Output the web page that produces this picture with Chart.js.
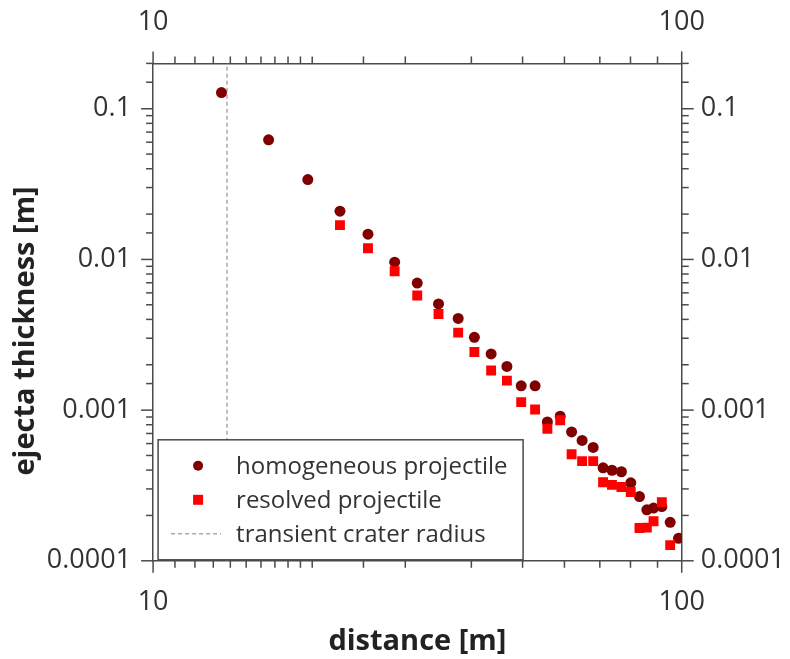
<!DOCTYPE html>
<html>
<head>
<meta charset="utf-8">
<script src="https://cdn.jsdelivr.net/npm/chart.js@4/dist/chart.umd.min.js"></script>
<style>
  html, body { margin: 0; padding: 0; background: #fff; }
  #wrap { width: 790px; height: 659px; }
</style>
</head>
<body>
<div id="wrap"><canvas id="ejectaChart"></canvas></div>
<script>
// distance from impact point [m]
const distance = [13.47, 16.54, 19.62, 22.57, 25.5, 28.64, 31.6, 34.67, 37.77, 40.53,
  43.6, 46.7, 49.7, 52.8, 55.7, 58.9, 61.9, 64.8, 68.0, 71.0,
  73.8, 76.9, 80.1, 83.2, 85.9, 88.45, 91.7, 95.1, 98.6];

// ejecta thickness [m]
const homogeneous = [0.128, 0.0622, 0.0339, 0.0209, 0.0147, 0.00959, 0.00697, 0.00507, 0.00406, 0.00304,
  0.00236, 0.00195, 0.00145, 0.00145, 0.000834, 0.000912, 0.000716, 0.000629, 0.000565, 0.000414,
  0.000399, 0.00039, 0.000329, 0.000267, 0.000218, 0.000224, 0.000229, 0.00018, 0.000141];
const resolved = [null, null, null, 0.0169, 0.01186, 0.00834, 0.00576, 0.00434, 0.00327, 0.00243,
  0.00183, 0.00157, 0.00113, 0.00101, 0.000752, 0.000857, 0.000509, 0.000459, 0.000459, 0.000332,
  0.000319, 0.000309, 0.000286, 0.000165, 0.000166, 0.000183, 0.000245, 0.000127, null];

const craterRadius = 13.8;
const xRange = [10, 100];
const yRange = [0.0001, 0.2];

const axisColor = "#4a4a4a";
const textColor = "#333";

Chart.defaults.font.family = "'Open Sans', 'Noto Sans', sans-serif";
Chart.defaults.color = textColor;

function points(ys) {
  const out = [];
  ys.forEach((y, i) => { if (y !== null) out.push({ x: distance[i], y: y }); });
  return out;
}

function isDecade(v) {
  const l = Math.log10(v);
  return Math.abs(l - Math.round(l)) < 1e-6;
}

function decadeLabel(value) {
  return isDecade(value) ? String(value) : "";
}

// tick marks outside the frame, long on decades
const tickMarks = {
  id: "tickMarks",
  afterDraw(chart) {
    const ctx = chart.ctx;
    const a = chart.chartArea;
    ctx.save();
    ctx.strokeStyle = axisColor;
    ctx.lineWidth = 1.5;
    Object.values(chart.scales).forEach((s) => {
      s.ticks.forEach((t) => {
        const len = isDecade(t.value) ? 12 : 7;
        const p = s.getPixelForValue(t.value);
        ctx.beginPath();
        if (s.position === "bottom") { ctx.moveTo(p, a.bottom); ctx.lineTo(p, a.bottom + len); }
        if (s.position === "top") { ctx.moveTo(p, a.top); ctx.lineTo(p, a.top - len); }
        if (s.position === "left") { ctx.moveTo(a.left, p); ctx.lineTo(a.left - len, p); }
        if (s.position === "right") { ctx.moveTo(a.right, p); ctx.lineTo(a.right + len, p); }
        ctx.stroke();
      });
    });
    ctx.restore();
  }
};

// boxed legend in the lower left corner of the plot
const boxLegend = {
  id: "boxLegend",
  afterDraw(chart) {
    const ctx = chart.ctx;
    const a = chart.chartArea;
    const bx = a.left + 5, by = a.bottom - 121, bw = 365, bh = 120;
    ctx.save();
    ctx.fillStyle = "#fff";
    ctx.fillRect(bx, by, bw, bh);
    ctx.strokeStyle = axisColor;
    ctx.lineWidth = 1.5;
    ctx.strokeRect(bx, by, bw, bh);
    ctx.font = "24px 'Open Sans', 'Noto Sans', sans-serif";
    ctx.textBaseline = "middle";
    chart.data.datasets.forEach((ds, i) => {
      const cy = by + 26 + i * 34;
      const mx = bx + 40;
      if (ds.showLine) {
        ctx.strokeStyle = ds.borderColor;
        ctx.lineWidth = ds.borderWidth;
        ctx.setLineDash(ds.borderDash);
        ctx.beginPath();
        ctx.moveTo(mx - 27, cy);
        ctx.lineTo(mx + 23, cy);
        ctx.stroke();
        ctx.setLineDash([]);
      } else {
        ctx.fillStyle = ds.backgroundColor;
        ctx.beginPath();
        if (ds.pointStyle === "rect") {
          const h = 5;
          ctx.rect(mx - h, cy - h, 2 * h, 2 * h);
        } else {
          ctx.arc(mx, cy, 5, 0, Math.PI * 2);
        }
        ctx.fill();
      }
      ctx.fillStyle = textColor;
      ctx.fillText(ds.label, bx + 78, cy + 1);
    });
    ctx.restore();
  }
};

// Chart.js reserves the tick padding twice; give one back
function trimPadding(scale) {
  if (scale.isHorizontal()) scale.height -= scale.options.ticks.padding;
  else scale.width -= scale.options.ticks.padding;
}

function logAxis(position, range, pad, title) {
  const axis = {
    type: "logarithmic",
    position: position,
    min: range[0],
    max: range[1],
    grid: { display: false, drawTicks: false, tickLength: 0 },
    border: { display: true, color: axisColor, width: 1.5 },
    ticks: {
      autoSkip: false,
      maxRotation: 0,
      padding: pad,
      font: { size: 27 },
      color: textColor,
      callback: decadeLabel
    },
    afterFit: trimPadding
  };
  if (title) axis.title = title;
  return axis;
}

const xBottom = logAxis("bottom", xRange, 25, {
  display: true, text: "distance [m]", color: "#222",
  font: { size: 29, weight: "bold" }, padding: { top: 6, bottom: 0 }
});
const xTop = logAxis("top", xRange, 25);
// trailing spaces push the rotated title a little down, as in the original
const yLeft = logAxis("left", yRange, 22, {
  display: true, text: "ejecta thickness [m]     ", color: "#222",
  font: { size: 29, weight: "bold" }, padding: { top: 4, bottom: 4 }
});
const yRight = logAxis("right", yRange, 19);

const config = {
  type: "scatter",
  data: {
    datasets: [
      {
        label: "homogeneous projectile",
        data: points(homogeneous),
        pointStyle: "circle",
        pointRadius: 5.5,
        pointHoverRadius: 5.5,
        backgroundColor: "#800000",
        borderColor: "#800000",
        borderWidth: 0,
        order: 2
      },
      {
        label: "resolved projectile",
        data: points(resolved),
        pointStyle: "rect",
        pointRadius: 7,
        pointHoverRadius: 7,
        backgroundColor: "#ff0000",
        borderColor: "#ff0000",
        borderWidth: 0,
        order: 1
      },
      {
        label: "transient crater radius",
        data: [{ x: craterRadius, y: yRange[0] }, { x: craterRadius, y: yRange[1] }],
        showLine: true,
        pointRadius: 0,
        borderColor: "#aaaaaa",
        borderWidth: 1.5,
        borderDash: [4, 3],
        order: 3
      }
    ]
  },
  options: {
    responsive: true,
    maintainAspectRatio: false,
    animation: false,
    layout: { padding: { left: 4, right: 5, top: 6, bottom: 0 } },
    plugins: {
      legend: { display: false },
      tooltip: { enabled: false }
    },
    scales: { x: xBottom, x2: xTop, y: yLeft, y2: yRight }
  },
  plugins: [tickMarks, boxLegend]
};

let myChart = new Chart(document.getElementById("ejectaChart"), config);
</script>
</body>
</html>
